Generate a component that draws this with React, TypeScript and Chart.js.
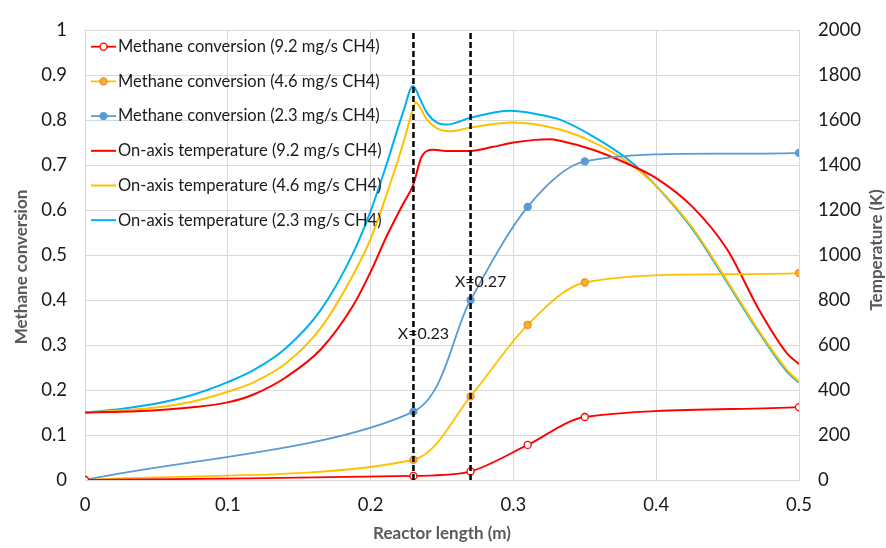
import React, { useEffect, useRef } from 'react';
import { Chart, registerables } from 'chart.js';

Chart.register(...registerables);

// Methane conversion (markers)
const markerX = [0, 0.23, 0.27, 0.31, 0.35, 0.5];
const conv92 = [0, 0.009, 0.019, 0.078, 0.14, 0.162];
const conv46 = [0, 0.045, 0.186, 0.345, 0.439, 0.46];
const conv23 = [0, 0.152, 0.4, 0.607, 0.708, 0.727];

// On-axis temperature (K)
const tempX92 = [0, 0.025, 0.05, 0.075, 0.1, 0.118, 0.141, 0.165, 0.188, 0.2, 0.211, 0.223, 0.2297, 0.236, 0.2437, 0.255, 0.27, 0.285, 0.3, 0.315, 0.3256, 0.3326, 0.3557, 0.3795, 0.4, 0.4258, 0.4496, 0.4727, 0.4916, 0.5];
const temp92 = [300, 303, 310, 323, 345, 380, 458, 580, 778, 925, 1080, 1230, 1310, 1440, 1468, 1462, 1463, 1480, 1500, 1512, 1515, 1508, 1468, 1407, 1342, 1212, 1026, 749, 563, 515];

const tempX46 = [0, 0.025, 0.05, 0.075, 0.1, 0.118, 0.141, 0.165, 0.188, 0.2, 0.211, 0.223, 0.2297, 0.2315, 0.2395, 0.2465, 0.2556, 0.27, 0.2997, 0.3326, 0.3557, 0.3795, 0.4, 0.4258, 0.4496, 0.4727, 0.4916, 0.5];
const temp46 = [300, 309, 322, 348, 392, 434, 520, 675, 915, 1072, 1265, 1500, 1650, 1678, 1602, 1563, 1550, 1567, 1589, 1558, 1502, 1416, 1307, 1118, 886, 655, 490, 437];

const tempX23 = [0, 0.025, 0.05, 0.075, 0.1, 0.118, 0.141, 0.165, 0.188, 0.2, 0.211, 0.223, 0.2297, 0.2344, 0.2395, 0.2465, 0.2535, 0.27, 0.2976, 0.315, 0.3326, 0.3557, 0.3795, 0.4, 0.4258, 0.4496, 0.4727, 0.4916, 0.5];
const temp23 = [300, 316, 340, 378, 435, 488, 588, 755, 1012, 1195, 1400, 1640, 1752, 1697, 1632, 1589, 1580, 1610, 1641, 1628, 1602, 1528, 1429, 1307, 1112, 879, 649, 482, 433];

// Vertical reference lines and their labels
const refLineX = [0.23, 0.27];
const refLabels = ['X=0.23', 'X=0.27'];
const refLabelY = [0.325, 0.44];

const seriesLabels = [
  'Methane conversion (9.2 mg/s CH4)',
  'Methane conversion (4.6 mg/s CH4)',
  'Methane conversion (2.3 mg/s CH4)',
  'On-axis temperature (9.2 mg/s CH4)',
  'On-axis temperature (4.6 mg/s CH4)',
  'On-axis temperature (2.3 mg/s CH4)',
];

const FONT = 'Lato, "Open Sans", sans-serif';

const fmt = (v: number) => String(Number(Number(v).toFixed(2)));

const customPlugin = {
  id: 'customDecor',
  afterDatasetsDraw(chart: any) {
    const ctx = chart.ctx;
    const xs = chart.scales.x;
    const ys = chart.scales.y;
    ctx.save();
    // reference labels
    ctx.font = `16px ${FONT}`;
    ctx.fillStyle = '#1a1a1a';
    ctx.textAlign = 'center';
    ctx.textBaseline = 'middle';
    refLabels.forEach((t, i) => {
      ctx.fillText(t, xs.getPixelForValue(refLineX[i]) + 10, ys.getPixelForValue(refLabelY[i]));
    });
    // legend
    const rowY0 = 46.7;
    const rowStep = 34.7;
    chart.data.datasets.forEach((ds: any, i: number) => {
      if (!ds.inLegend) return;
      const y = rowY0 + i * rowStep;
      ctx.strokeStyle = ds.borderColor;
      ctx.lineWidth = ds.borderWidth;
      ctx.setLineDash([]);
      ctx.beginPath();
      ctx.moveTo(91, y);
      ctx.lineTo(116, y);
      ctx.stroke();
      if (ds.pointRadius > 0) {
        ctx.beginPath();
        ctx.arc(103.5, y, ds.pointRadius, 0, Math.PI * 2);
        ctx.fillStyle = ds.pointBackgroundColor;
        ctx.fill();
        ctx.lineWidth = ds.pointBorderWidth;
        ctx.strokeStyle = ds.pointBorderColor;
        ctx.stroke();
      }
      ctx.fillStyle = '#1a1a1a';
      ctx.font = `16.5px ${FONT}`;
      ctx.textAlign = 'left';
      ctx.textBaseline = 'middle';
      ctx.fillText(ds.label, 118, y);
    });
    // axis titles
    ctx.font = `bold 17px ${FONT}`;
    ctx.fillStyle = '#595959';
    ctx.textAlign = 'center';
    ctx.textBaseline = 'middle';
    ctx.save();
    ctx.translate(22, 267);
    ctx.rotate(-Math.PI / 2);
    ctx.fillText('Methane conversion', 0, 0);
    ctx.restore();
    ctx.save();
    ctx.translate(877, 250);
    ctx.rotate(-Math.PI / 2);
    ctx.fillText('Temperature (K)', 0, 0);
    ctx.restore();
    ctx.restore();
  },
};

export default function App() {
  const ref = useRef<HTMLCanvasElement | null>(null);
  useEffect(() => {
    if (!ref.current) return;
    const convDs = (label: string, vals: number[], line: string, fill: string, pborder: string) => ({
      label,
      inLegend: true,
      data: markerX.map((x, i) => ({ x, y: vals[i] })),
      yAxisID: 'y',
      borderColor: line,
      borderWidth: 1.8,
      pointRadius: 3.5,
      pointHoverRadius: 3.5,
      pointBackgroundColor: fill,
      pointBorderColor: pborder,
      pointBorderWidth: 1.3,
      tension: 0.3,
      fill: false,
      order: 1,
    });
    const tempDs = (label: string, xv: number[], tv: number[], color: string) => ({
      label,
      inLegend: true,
      data: xv.map((x, i) => ({ x, y: tv[i] })),
      yAxisID: 'yT',
      borderColor: color,
      borderWidth: 2,
      pointRadius: 0,
      pointHoverRadius: 0,
      cubicInterpolationMode: 'monotone',
      fill: false,
      order: 1,
    });
    const refDs = (x: number) => ({
      label: 'ref',
      inLegend: false,
      data: [{ x, y: 0 }, { x, y: 1 }],
      yAxisID: 'y',
      borderColor: '#000000',
      borderWidth: 2.5,
      borderDash: [6, 3],
      pointRadius: 0,
      pointHoverRadius: 0,
      fill: false,
      order: 0,
    });
    const chart = new Chart(ref.current, {
      type: 'line',
      data: {
        datasets: [
          convDs(seriesLabels[0], conv92, '#FF0000', '#FFFFFF', '#FF0000'),
          convDs(seriesLabels[1], conv46, '#FFC000', '#FFB020', '#F08A30'),
          convDs(seriesLabels[2], conv23, '#5B9BD5', '#5B9BD5', '#5B9BD5'),
          tempDs(seriesLabels[3], tempX92, temp92, '#FF0000'),
          tempDs(seriesLabels[4], tempX46, temp46, '#FFC000'),
          tempDs(seriesLabels[5], tempX23, temp23, '#00B0F0'),
          refDs(refLineX[0]),
          refDs(refLineX[1]),
        ] as any,
      },
      options: {
        responsive: false,
        animation: false,
        layout: { padding: { top: 18, left: 0, right: 0, bottom: 0 } },
        plugins: { legend: { display: false }, tooltip: { enabled: false } },
        scales: {
          x: {
            type: 'linear',
            min: 0,
            max: 0.5,
            afterFit: (s: any) => { s.height = 68; },
            ticks: {
              stepSize: 0.1,
              callback: (v: any) => fmt(v),
              font: { family: FONT, size: 18.5 },
              color: '#1a1a1a',
              padding: 14,
              maxRotation: 0,
            },
            grid: { color: '#D9D9D9', drawTicks: false, tickLength: 0 },
            border: { color: '#D9D9D9' },
            title: {
              display: true,
              text: 'Reactor length (m)',
              font: { family: FONT, size: 17, weight: 'bold' },
              color: '#595959',
              padding: { top: 0, bottom: 4 },
            },
          },
          y: {
            type: 'linear',
            position: 'left',
            min: 0,
            max: 1,
            afterFit: (s: any) => { s.width = 85; },
            ticks: {
              stepSize: 0.1,
              callback: (v: any) => fmt(v),
              font: { family: FONT, size: 18.5 },
              color: '#1a1a1a',
              padding: 18,
            },
            grid: { color: '#D9D9D9', drawTicks: false, tickLength: 0 },
            border: { color: '#D9D9D9' },
          },
          yT: {
            type: 'linear',
            position: 'right',
            min: 0,
            max: 2000,
            afterFit: (s: any) => { s.width = 87; },
            ticks: {
              stepSize: 200,
              callback: (v: any) => String(Math.round(Number(v))),
              font: { family: FONT, size: 18.5 },
              color: '#1a1a1a',
              padding: 19,
            },
            grid: { display: false, drawTicks: false, tickLength: 0 },
            border: { color: '#D9D9D9' },
          },
        },
      } as any,
      plugins: [customPlugin],
    });
    return () => chart.destroy();
  }, []);
  return (
    <div style={{ position: 'fixed', left: 0, top: 0, width: 886, height: 548, background: '#fff' }}>
      <canvas ref={ref} width={886} height={548} style={{ width: 886, height: 548 }} />
    </div>
  );
}
